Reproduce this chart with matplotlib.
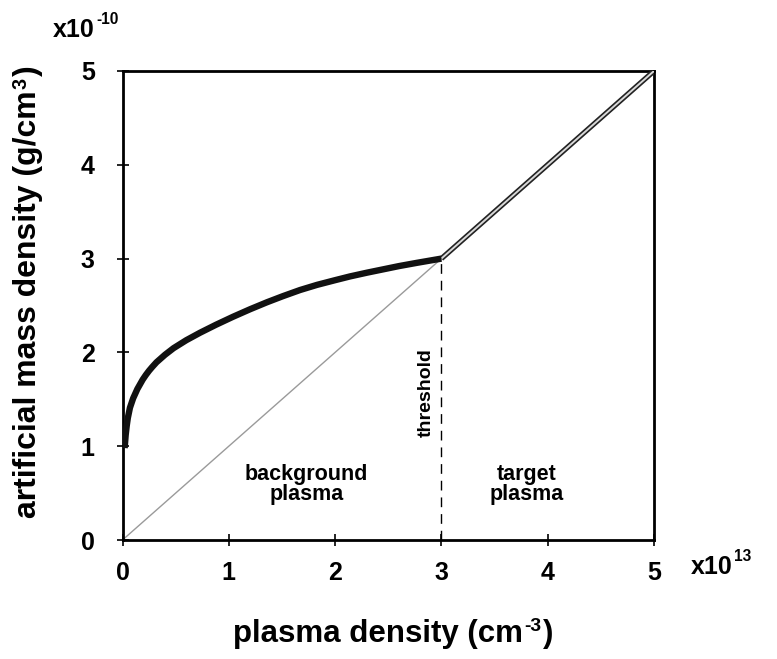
import matplotlib.pyplot as plt

plt.rcParams['font.family'] = ['Liberation Sans', 'DejaVu Sans']
plt.rcParams['font.weight'] = 'bold'

# background-plasma curve (x in 1e13 cm^-3, y in 1e-10 g/cm^3)
bg_x = [0.02, 0.03, 0.04, 0.05, 0.07, 0.1, 0.14, 0.19, 0.22, 0.25, 0.28, 0.32, 0.36,
        0.4, 0.48, 0.6, 0.73, 0.88, 1.04, 1.2, 1.36, 1.51, 1.67, 1.83, 2.0, 2.14,
        2.3, 2.45, 2.6, 2.77, 3.0]
bg_y = [0.98, 1.12, 1.22, 1.30, 1.41, 1.51, 1.61, 1.71, 1.76, 1.805, 1.845, 1.895, 1.935,
        1.975, 2.045, 2.13, 2.21, 2.295, 2.38, 2.46, 2.535, 2.6, 2.665, 2.72, 2.77, 2.81,
        2.85, 2.885, 2.92, 2.955, 3.0]
# linear part (target plasma) and reference diagonal
diag_x = [0, 5]
diag_y = [0, 5]
tgt_x = [3, 5]
tgt_y = [3, 5]
threshold = 3
ticks = [0, 1, 2, 3, 4, 5]

fig = plt.figure(figsize=(7.77, 6.59), dpi=100)
ax = fig.add_axes([122.5 / 777, 1 - 540 / 659, (654 - 122.5) / 777, (540 - 71) / 659])

ax.plot(diag_x, diag_y, color='#9a9a9a', lw=1.0, zorder=2)
ax.plot(tgt_x, tgt_y, color='#222222', lw=3.8, solid_capstyle='butt', zorder=3)
ax.plot(tgt_x, tgt_y, color='#d8d8d8', lw=1.4, solid_capstyle='butt', zorder=4)
ax.plot(bg_x, bg_y, color='#111111', lw=4.6, solid_capstyle='butt',
        solid_joinstyle='round', zorder=5)
ax.plot([threshold, threshold], [0, threshold], color='black', lw=1.0,
        dashes=(7, 5), zorder=1)

ax.set_xlim(0, 5)
ax.set_ylim(0, 5)
ax.set_xticks(ticks)
ax.set_yticks(ticks)
ax.tick_params(direction='inout', length=8, width=1.2, labelsize=18)
ax.tick_params(axis='x', pad=11)
ax.tick_params(axis='y', pad=16)
for lab in ax.get_xticklabels() + ax.get_yticklabels():
    lab.set_fontweight('bold')
for s in ax.spines.values():
    s.set_linewidth(2.0)

ax.text(1.73, 0.81, 'background\nplasma', ha='center', va='top', fontsize=15.5,
        fontweight='bold', linespacing=0.92, multialignment='center')
ax.text(3.8, 0.81, 'target\nplasma', ha='center', va='top', fontsize=15.5,
        fontweight='bold', linespacing=0.92, multialignment='center')
ax.text(2.855, 1.10, 'threshold', rotation=90, ha='center', va='bottom',
        fontsize=14, fontweight='bold')


def sup_label(x, y, base, sup, tail, size, rotation=0, ha='left', va='baseline',
              sup_va='top', rise=1):
    t = fig.text(x, y, base, fontsize=size, fontweight='bold', rotation=rotation,
                 ha=ha, va=va)
    if rotation == 0:
        s = ax.annotate(sup, xy=(1, 1), xycoords=t, xytext=(1, rise),
                        textcoords='offset points', ha='left', va=sup_va,
                        fontsize=size * 0.62, fontweight='bold')
        if tail:
            ax.annotate(tail, xy=(1, 0), xycoords=(s, t), xytext=(1, 0),
                        textcoords='offset points', ha='left', va='bottom',
                        fontsize=size, fontweight='bold')
    else:
        s = ax.annotate(sup, xy=(0, 1), xycoords=t, xytext=(-rise, 1),
                        textcoords='offset points', ha='left', va='bottom',
                        rotation=90, fontsize=size * 0.62, fontweight='bold')
        if tail:
            ax.annotate(tail, xy=(0, 1), xycoords=(t, s), xytext=(0, 1),
                        textcoords='offset points', ha='left', va='bottom',
                        rotation=90, fontsize=size, fontweight='bold')
    return t


sup_label(53 / 777, 1 - 37 / 659, 'x10', '-10', '', 18, sup_va='center', rise=-1)
sup_label(691 / 777, 1 - 574 / 659, 'x10', '13', '', 18, sup_va='center', rise=-1)
sup_label(233 / 777, 1 - 642 / 659, 'plasma density (cm', '-3', ')', 22.5)
sup_label(13 / 777, 1 - 518 / 659, 'artificial mass density (g/cm', '3', ')', 23,
          rotation=90, ha='left', va='bottom')

fig.savefig('out.png', dpi=100)
